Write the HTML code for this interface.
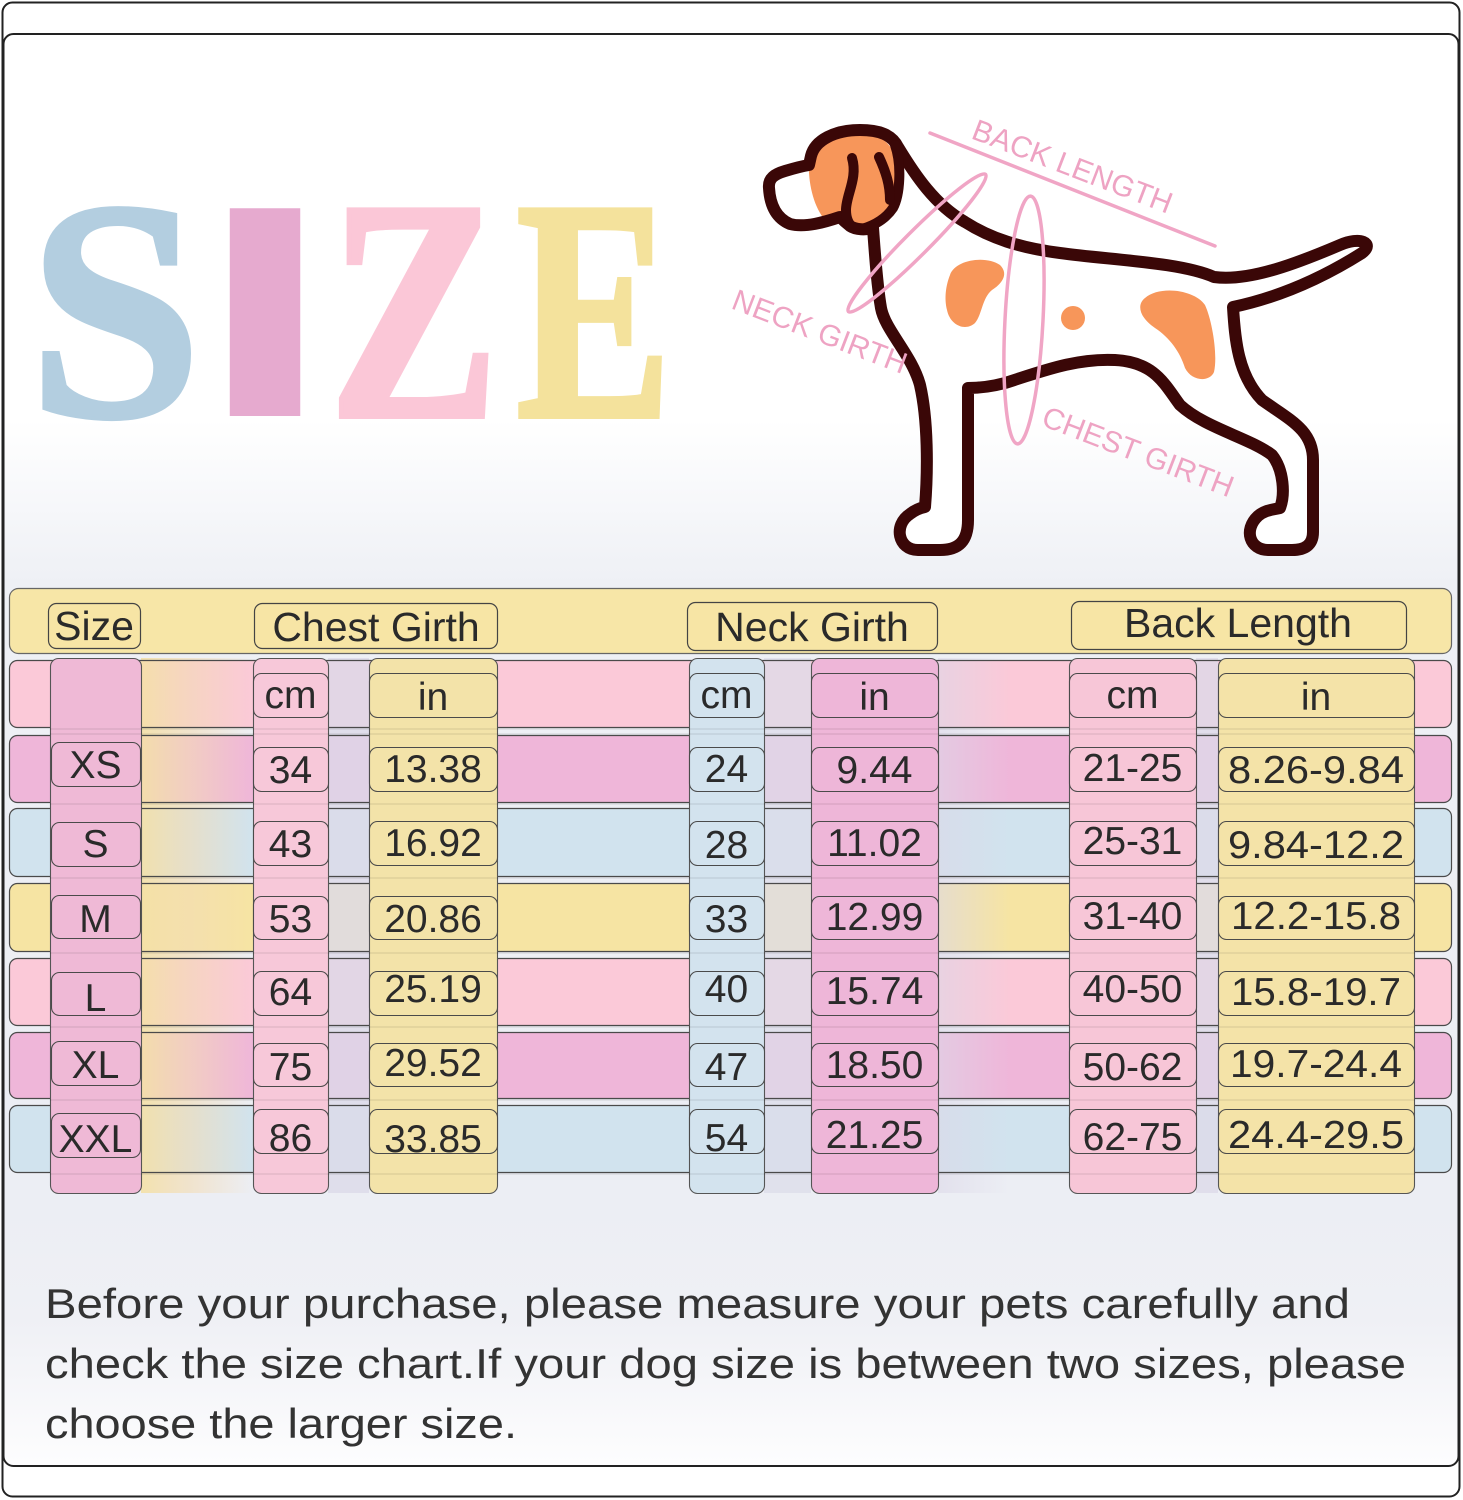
<!DOCTYPE html>
<html>
<head>
<meta charset="utf-8">
<style>
html,body{margin:0;padding:0;background:#fff;}
svg{display:block;}
</style>
</head>
<body>
<svg width="1463" height="1500" viewBox="0 0 1463 1500" xmlns="http://www.w3.org/2000/svg">
<defs>
  <linearGradient id="bg" x1="0" y1="0" x2="0" y2="1500" gradientUnits="userSpaceOnUse">
    <stop offset="0" stop-color="#ffffff"/>
    <stop offset="0.28" stop-color="#ffffff"/>
    <stop offset="0.39" stop-color="#eef0f5"/>
    <stop offset="0.80" stop-color="#eceef4"/>
    <stop offset="0.88" stop-color="#eff0f5"/>
    <stop offset="0.975" stop-color="#fdfdfe"/>
  </linearGradient>
  <linearGradient id="gapA" x1="141" y1="0" x2="253" y2="0" gradientUnits="userSpaceOnUse">
    <stop offset="0" stop-color="#f4e1a6" stop-opacity="0.9"/>
    <stop offset="0.45" stop-color="#f3dcb4" stop-opacity="0.6"/>
    <stop offset="1" stop-color="#f3dcb4" stop-opacity="0"/>
  </linearGradient>
  <linearGradient id="gapE" x1="938" y1="0" x2="1010" y2="0" gradientUnits="userSpaceOnUse">
    <stop offset="0" stop-color="#dcd8e8" stop-opacity="0.6"/>
    <stop offset="1" stop-color="#dcd8e8" stop-opacity="0"/>
  </linearGradient>
</defs>

<!-- background -->
<rect x="0" y="0" width="1463" height="1500" fill="#ffffff"/>
<rect x="3" y="34" width="1456" height="1432" rx="10" fill="url(#bg)"/>

<!-- frames -->
<rect x="2.5" y="2.5" width="1457" height="1494" rx="10" fill="none" stroke="#222" stroke-width="2"/>
<rect x="3.5" y="34" width="1455" height="1432" rx="10" fill="none" stroke="#222" stroke-width="2"/>

<!-- SIZE title -->
<g font-family="Liberation Serif, serif" font-weight="bold" font-size="314" text-anchor="middle">
  <text transform="translate(115,416) scale(1,1)" x="0" y="0" fill="#b3cee0" stroke="#b3cee0" stroke-width="4">S</text>
  <text transform="translate(414,416) scale(0.81,1)" x="0" y="0" fill="#fbc7d7" stroke="#fbc7d7" stroke-width="6">Z</text>
  <text transform="translate(594,416) scale(0.74,1)" x="0" y="0" fill="#f4e29c" stroke="#f4e29c" stroke-width="6">E</text>
</g>
<text transform="translate(265,416) scale(1.62,1)" x="0" y="0" font-family="Liberation Sans, sans-serif" font-weight="bold" font-size="302" text-anchor="middle" fill="#e6aacf">I</text>

<!-- DOG -->
<g>
  <path d="M 769,188 C 768,178 775,174 785,171 C 795,168 803,166 809,165 L 811,156 C 815,140 835,130 860,130 C 880,130 892,135 898,147 C 915,175 935,205 965,222 C 990,238 1020,248 1060,253 C 1110,260 1180,262 1214,277 C 1250,282 1300,262 1340,245 C 1360,236 1375,243 1362,253 C 1335,270 1290,295 1233,307 C 1235,340 1238,375 1262,400 C 1290,420 1313,430 1313,460 L 1313,532 C 1313,545 1305,550 1292,550 L 1268,550 C 1250,550 1243,530 1258,516 C 1265,510 1272,510 1280,508 C 1285,495 1284,470 1272,455 C 1250,438 1205,428 1180,405 C 1165,385 1155,362 1115,360 C 1075,358 1040,372 1005,383 C 990,387 980,388 968,388 L 968,520 C 968,542 958,550 940,550 L 918,550 C 898,550 893,525 910,514 C 915,510 920,508 925,507 C 928,470 928,420 920,385 C 912,355 885,330 881,308 C 877,285 875,255 873,228 C 866,230 856,230 850,226 C 845,222 842,219 840,217 C 825,222 805,228 790,224 C 776,218 770,205 769,188 Z" fill="#ffffff"/>
  <!-- orange patches -->
  <path d="M 810,150 C 806,175 812,205 825,220 L 870,226 C 890,215 898,195 897,165 C 895,145 880,133 860,132 C 838,132 815,138 810,150 Z" fill="#f7965a"/>
  <path d="M 950,275 C 955,260 985,255 1000,265 C 1010,275 1000,285 992,290 C 982,298 982,315 975,323 C 965,332 950,325 947,310 C 944,298 946,285 950,275 Z" fill="#f7965a"/>
  <circle cx="1073" cy="318" r="12" fill="#f7965a"/>
  <path d="M 1145,298 C 1160,285 1195,290 1205,305 C 1212,320 1218,355 1214,372 C 1210,382 1192,382 1185,368 C 1180,352 1170,338 1155,328 C 1140,318 1136,305 1145,298 Z" fill="#f7965a"/>
  <!-- outline -->
  <path d="M 769,188 C 768,178 775,174 785,171 C 795,168 803,166 809,165 L 811,156 C 815,140 835,130 860,130 C 880,130 892,135 898,147 C 915,175 935,205 965,222 C 990,238 1020,248 1060,253 C 1110,260 1180,262 1214,277 C 1250,282 1300,262 1340,245 C 1360,236 1375,243 1362,253 C 1335,270 1290,295 1233,307 C 1235,340 1238,375 1262,400 C 1290,420 1313,430 1313,460 L 1313,532 C 1313,545 1305,550 1292,550 L 1268,550 C 1250,550 1243,530 1258,516 C 1265,510 1272,510 1280,508 C 1285,495 1284,470 1272,455 C 1250,438 1205,428 1180,405 C 1165,385 1155,362 1115,360 C 1075,358 1040,372 1005,383 C 990,387 980,388 968,388 L 968,520 C 968,542 958,550 940,550 L 918,550 C 898,550 893,525 910,514 C 915,510 920,508 925,507 C 928,470 928,420 920,385 C 912,355 885,330 881,308 C 877,285 875,255 873,228 C 866,230 856,230 850,226 C 845,222 842,219 840,217 C 825,222 805,228 790,224 C 776,218 770,205 769,188 Z" fill="none" stroke="#3a0707" stroke-width="12" stroke-linejoin="round"/>
  <path d="M 895,145 C 902,165 900,195 893,208 C 885,220 872,226 862,229" fill="none" stroke="#3a0707" stroke-width="10" stroke-linecap="round"/>
  <path d="M 852,158 C 858,178 846,195 846,210 C 846,220 850,226 855,229" fill="none" stroke="#3a0707" stroke-width="10" stroke-linecap="round"/>
  <path d="M 879,157 C 886,172 890,185 890,200" fill="none" stroke="#3a0707" stroke-width="10" stroke-linecap="round"/>
</g>

<!-- measurement marks -->
<g fill="none" stroke="#f0a5c5" stroke-width="3.5" stroke-linecap="round">
  <line x1="930" y1="133" x2="1215" y2="246"/>
  <ellipse cx="917" cy="243" rx="97" ry="12" transform="rotate(-45 917 243)"/>
  <ellipse cx="1024" cy="320" rx="19" ry="124" transform="rotate(3 1024 320)"/>
</g>
<g font-family="Liberation Sans, sans-serif" font-size="30" fill="#eea3c3">
  <text transform="translate(970,138) rotate(21)">BACK LENGTH</text>
  <text transform="translate(730,308) rotate(21)">NECK GIRTH</text>
  <text transform="translate(1040,425) rotate(21)">CHEST GIRTH</text>
</g>

<!-- TABLE -->
<rect x="9.5" y="588.5" width="1442" height="65" rx="9" fill="#f7e6a7" stroke="#666" stroke-width="1.2"/>
<g fill="#f7e5a5" stroke="#444" stroke-width="1.2">
  <rect x="48.5" y="603.5" width="92" height="45" rx="8"/>
  <rect x="254.5" y="603.5" width="243" height="45" rx="8"/>
  <rect x="687.5" y="602.5" width="250" height="48" rx="8"/>
  <rect x="1071.5" y="601.5" width="335" height="48" rx="8"/>
</g>
<g font-family="Liberation Sans, sans-serif" font-size="41" fill="#2a2a2a" text-anchor="middle">
  <text x="94" y="640">Size</text>
  <text x="376" y="641">Chest Girth</text>
  <text x="812" y="641">Neck Girth</text>
  <text x="1238" y="637">Back Length</text>
</g>

<!-- row bands fills -->
<g>
  <rect x="9.5" y="660.5" width="1442" height="67" rx="8" fill="#fbc9d8"/>
  <rect x="9.5" y="735.5" width="1442" height="67" rx="8" fill="#efb6d9"/>
  <rect x="9.5" y="808.5" width="1442" height="68" rx="8" fill="#d1e3ee"/>
  <rect x="9.5" y="883.5" width="1442" height="68" rx="8" fill="#f6e4a3"/>
  <rect x="9.5" y="958.5" width="1442" height="67" rx="8" fill="#fbc9d8"/>
  <rect x="9.5" y="1032.5" width="1442" height="66" rx="8" fill="#efb6d9"/>
  <rect x="9.5" y="1105.5" width="1442" height="67" rx="8" fill="#d1e3ee"/>
</g>
<!-- gap overlays -->
<rect x="141" y="658" width="112" height="535" fill="url(#gapA)"/>
<rect x="328" y="658" width="41" height="535" fill="#dcd9e8" opacity="0.8"/>
<rect x="764" y="658" width="47" height="535" fill="#dcdcea" opacity="0.75"/>
<rect x="938" y="658" width="72" height="535" fill="url(#gapE)"/>
<rect x="1196" y="658" width="22" height="535" fill="#ddd9e8" opacity="0.8"/>
<!-- row band strokes -->
<g fill="none" stroke="#4a4a4a" stroke-width="1.2">
  <rect x="9.5" y="660.5" width="1442" height="67" rx="8"/>
  <rect x="9.5" y="735.5" width="1442" height="67" rx="8"/>
  <rect x="9.5" y="808.5" width="1442" height="68" rx="8"/>
  <rect x="9.5" y="883.5" width="1442" height="68" rx="8"/>
  <rect x="9.5" y="958.5" width="1442" height="67" rx="8"/>
  <rect x="9.5" y="1032.5" width="1442" height="66" rx="8"/>
  <rect x="9.5" y="1105.5" width="1442" height="67" rx="8"/>
</g>

<!-- column strips -->
<g stroke="#555" stroke-width="1.1">
  <rect x="50.5" y="658.5" width="91" height="535" rx="8" fill="#efb9d6"/>
  <rect x="253.5" y="658.5" width="75" height="535" rx="8" fill="#f7c8d9"/>
  <rect x="369.5" y="658.5" width="128" height="535" rx="8" fill="#f3e3a9"/>
  <rect x="689.5" y="658.5" width="75" height="535" rx="8" fill="#d3e3ee"/>
  <rect x="811.5" y="658.5" width="127" height="535" rx="8" fill="#eeb6d8"/>
  <rect x="1069.5" y="658.5" width="127" height="535" rx="8" fill="#f7c6d7"/>
  <rect x="1218.5" y="658.5" width="196" height="535" rx="8" fill="#f4e3a8"/>
</g>
<g stroke="#000" stroke-opacity="0.12" stroke-width="1">
  <line x1="50" y1="729" x2="1415" y2="729"/>
  <line x1="50" y1="734" x2="1415" y2="734"/>
  <line x1="50" y1="804" x2="1415" y2="804"/>
  <line x1="50" y1="878" x2="1415" y2="878"/>
  <line x1="50" y1="953" x2="1415" y2="953"/>
  <line x1="50" y1="1027" x2="1415" y2="1027"/>
  <line x1="50" y1="1100" x2="1415" y2="1100"/>
  <line x1="50" y1="1174" x2="1415" y2="1174"/>
</g>

<!-- cell boxes -->
<g stroke="#4a4a4a" stroke-width="1.1">
  <rect x="253.5" y="673.5" width="75" height="44" rx="8" fill="#f7c8d9"/>
  <rect x="369.5" y="673.5" width="128" height="44" rx="8" fill="#f3e3a9"/>
  <rect x="689.5" y="673.5" width="75" height="44" rx="8" fill="#d3e3ee"/>
  <rect x="811.5" y="673.5" width="127" height="44" rx="8" fill="#eeb6d8"/>
  <rect x="1069.5" y="673.5" width="127" height="44" rx="8" fill="#f7c6d7"/>
  <rect x="1218.5" y="673.5" width="196" height="44" rx="8" fill="#f4e3a8"/>

  <rect x="51.5" y="742.5" width="89" height="44" rx="8" fill="#efb9d6"/>
  <rect x="253.5" y="747.5" width="75" height="44" rx="8" fill="#f7c8d9"/>
  <rect x="369.5" y="747.5" width="128" height="44" rx="8" fill="#f3e3a9"/>
  <rect x="689.5" y="747.5" width="75" height="44" rx="8" fill="#d3e3ee"/>
  <rect x="811.5" y="747.5" width="127" height="44" rx="8" fill="#eeb6d8"/>
  <rect x="1069.5" y="747.5" width="127" height="44" rx="8" fill="#f7c6d7"/>
  <rect x="1218.5" y="747.5" width="196" height="44" rx="8" fill="#f4e3a8"/>

  <rect x="51.5" y="822.5" width="89" height="44" rx="8" fill="#efb9d6"/>
  <rect x="253.5" y="821.5" width="75" height="44" rx="8" fill="#f7c8d9"/>
  <rect x="369.5" y="821.5" width="128" height="44" rx="8" fill="#f3e3a9"/>
  <rect x="689.5" y="821.5" width="75" height="44" rx="8" fill="#d3e3ee"/>
  <rect x="811.5" y="821.5" width="127" height="44" rx="8" fill="#eeb6d8"/>
  <rect x="1069.5" y="821.5" width="127" height="44" rx="8" fill="#f7c6d7"/>
  <rect x="1218.5" y="821.5" width="196" height="44" rx="8" fill="#f4e3a8"/>

  <rect x="51.5" y="895.5" width="89" height="43" rx="8" fill="#efb9d6"/>
  <rect x="253.5" y="896.5" width="75" height="43" rx="8" fill="#f7c8d9"/>
  <rect x="369.5" y="896.5" width="128" height="43" rx="8" fill="#f3e3a9"/>
  <rect x="689.5" y="896.5" width="75" height="43" rx="8" fill="#d3e3ee"/>
  <rect x="811.5" y="896.5" width="127" height="43" rx="8" fill="#eeb6d8"/>
  <rect x="1069.5" y="896.5" width="127" height="43" rx="8" fill="#f7c6d7"/>
  <rect x="1218.5" y="896.5" width="196" height="43" rx="8" fill="#f4e3a8"/>

  <rect x="51.5" y="972.5" width="89" height="43" rx="8" fill="#efb9d6"/>
  <rect x="253.5" y="971.5" width="75" height="44" rx="8" fill="#f7c8d9"/>
  <rect x="369.5" y="971.5" width="128" height="44" rx="8" fill="#f3e3a9"/>
  <rect x="689.5" y="971.5" width="75" height="44" rx="8" fill="#d3e3ee"/>
  <rect x="811.5" y="971.5" width="127" height="44" rx="8" fill="#eeb6d8"/>
  <rect x="1069.5" y="971.5" width="127" height="44" rx="8" fill="#f7c6d7"/>
  <rect x="1218.5" y="971.5" width="196" height="44" rx="8" fill="#f4e3a8"/>

  <rect x="51.5" y="1041.5" width="89" height="44" rx="8" fill="#efb9d6"/>
  <rect x="253.5" y="1043.5" width="75" height="43" rx="8" fill="#f7c8d9"/>
  <rect x="369.5" y="1043.5" width="128" height="43" rx="8" fill="#f3e3a9"/>
  <rect x="689.5" y="1043.5" width="75" height="43" rx="8" fill="#d3e3ee"/>
  <rect x="811.5" y="1043.5" width="127" height="43" rx="8" fill="#eeb6d8"/>
  <rect x="1069.5" y="1043.5" width="127" height="43" rx="8" fill="#f7c6d7"/>
  <rect x="1218.5" y="1043.5" width="196" height="43" rx="8" fill="#f4e3a8"/>

  <rect x="51.5" y="1113.5" width="89" height="44" rx="8" fill="#efb9d6"/>
  <rect x="253.5" y="1109.5" width="75" height="44" rx="8" fill="#f7c8d9"/>
  <rect x="369.5" y="1109.5" width="128" height="44" rx="8" fill="#f3e3a9"/>
  <rect x="689.5" y="1109.5" width="75" height="44" rx="8" fill="#d3e3ee"/>
  <rect x="811.5" y="1109.5" width="127" height="44" rx="8" fill="#eeb6d8"/>
  <rect x="1069.5" y="1109.5" width="127" height="44" rx="8" fill="#f7c6d7"/>
  <rect x="1218.5" y="1109.5" width="196" height="44" rx="8" fill="#f4e3a8"/>
</g>

<!-- cell text -->
<g font-family="Liberation Sans, sans-serif" font-size="39" fill="#2a2a2a" text-anchor="middle">
  <text x="290.5" y="708">cm</text>
  <text x="433" y="710">in</text>
  <text x="726.5" y="708">cm</text>
  <text x="874.5" y="710">in</text>
  <text x="1132.5" y="708">cm</text>
  <text x="1316" y="710">in</text>

  <text x="95.5" y="778">XS</text>
  <text x="290.5" y="783">34</text>
  <text x="433" y="782">13.38</text>
  <text x="726.5" y="782">24</text>
  <text x="874.5" y="783">9.44</text>
  <text x="1132.5" y="781">21-25</text>
  <text x="1316" y="783" textLength="176" lengthAdjust="spacingAndGlyphs">8.26-9.84</text>

  <text x="95.5" y="857">S</text>
  <text x="290.5" y="857">43</text>
  <text x="433" y="856">16.92</text>
  <text x="726.5" y="858">28</text>
  <text x="874.5" y="856">11.02</text>
  <text x="1132.5" y="854">25-31</text>
  <text x="1316" y="858" textLength="176" lengthAdjust="spacingAndGlyphs">9.84-12.2</text>

  <text x="95.5" y="932">M</text>
  <text x="290.5" y="932">53</text>
  <text x="433" y="932">20.86</text>
  <text x="726.5" y="932">33</text>
  <text x="874.5" y="930">12.99</text>
  <text x="1132.5" y="929">31-40</text>
  <text x="1316" y="929" textLength="170" lengthAdjust="spacingAndGlyphs">12.2-15.8</text>

  <text x="95.5" y="1011">L</text>
  <text x="290.5" y="1005">64</text>
  <text x="433" y="1002">25.19</text>
  <text x="726.5" y="1002">40</text>
  <text x="874.5" y="1004">15.74</text>
  <text x="1132.5" y="1002">40-50</text>
  <text x="1316" y="1005" textLength="170" lengthAdjust="spacingAndGlyphs">15.8-19.7</text>

  <text x="95.5" y="1078">XL</text>
  <text x="290.5" y="1080">75</text>
  <text x="433" y="1076">29.52</text>
  <text x="726.5" y="1080">47</text>
  <text x="874.5" y="1078">18.50</text>
  <text x="1132.5" y="1080">50-62</text>
  <text x="1316" y="1077" textLength="172" lengthAdjust="spacingAndGlyphs">19.7-24.4</text>

  <text x="95.5" y="1152">XXL</text>
  <text x="290.5" y="1151">86</text>
  <text x="433" y="1152">33.85</text>
  <text x="726.5" y="1151">54</text>
  <text x="874.5" y="1148">21.25</text>
  <text x="1132.5" y="1150">62-75</text>
  <text x="1316" y="1148" textLength="176" lengthAdjust="spacingAndGlyphs">24.4-29.5</text>
</g>

<!-- bottom note -->
<g font-family="Liberation Sans, sans-serif" font-size="42" fill="#333333">
  <text x="45" y="1318" textLength="1305" lengthAdjust="spacingAndGlyphs">Before your purchase, please measure your pets carefully and</text>
  <text x="45" y="1378" textLength="1361" lengthAdjust="spacingAndGlyphs">check the size chart.If your dog size is between two sizes, please</text>
  <text x="45" y="1438" textLength="472" lengthAdjust="spacingAndGlyphs">choose the larger size.</text>
</g>
</svg>
</body>
</html>
